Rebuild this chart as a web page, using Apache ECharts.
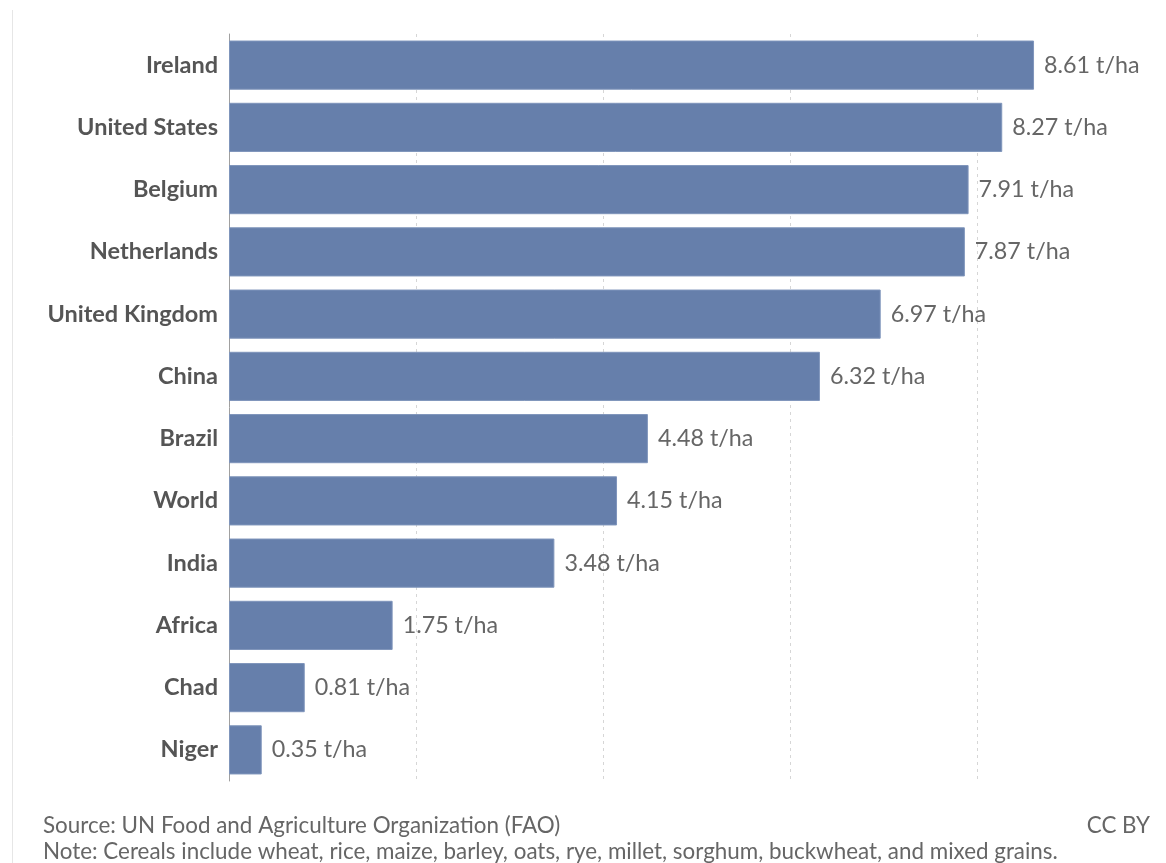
<!DOCTYPE html>
<html>
<head>
<meta charset="utf-8">
<script src="https://cdn.jsdelivr.net/npm/echarts@6/dist/echarts.min.js"></script>
<style>
html,body{margin:0;padding:0;background:#fff;}
#chart{width:1166px;height:863px;}
</style>
</head>
<body>
<div id="chart"></div>
<script>
const categories = ["Ireland","United States","Belgium","Netherlands","United Kingdom","China","Brazil","World","India","Africa","Chad","Niger"];
const values = [8.61, 8.27, 7.91, 7.87, 6.97, 6.32, 4.48, 4.15, 3.48, 1.75, 0.81, 0.35];
const unit = " t/ha";
const sourceText = "Source: UN Food and Agriculture Organization (FAO)";
const noteText = "Note: Cereals include wheat, rice, maize, barley, oats, rye, millet, sorghum, buckwheat, and mixed grains.";
const licenseText = "CC BY";

const chart = echarts.init(document.getElementById('chart'));
const font = 'Lato, "Noto Sans", sans-serif';
chart.setOption({
  animation: false,
  backgroundColor: '#fff',
  grid: {left: 229, right: 2, top: 34, bottom: 82, containLabel: false},
  xAxis: {
    type: 'value', min: 0, max: 10, interval: 2,
    axisLabel: {show: false}, axisLine: {show: false}, axisTick: {show: false},
    splitLine: {show: true, showMinLine: false, showMaxLine: false, lineStyle: {color: '#d6d6d6', type: [3, 4], width: 1}}
  },
  yAxis: {
    type: 'category', data: categories, inverse: true,
    axisLine: {show: true, lineStyle: {color: '#a0a0a0', width: 1}},
    axisTick: {show: false},
    axisLabel: {color: '#555', fontSize: 23.5, fontWeight: 'bold', fontFamily: font, margin: 11}
  },
  series: [{
    type: 'bar', data: values, barCategoryGap: '21%',
    itemStyle: {color: '#667fab', borderColor: '#7f95bb', borderWidth: 1},
    label: {show: true, position: 'right', distance: 10, color: '#666', fontSize: 23.3, fontFamily: font,
      formatter: p => p.value.toFixed(2) + unit}
  }],
  graphic: [
    {type: 'line', shape: {x1: 12.5, y1: 10, x2: 12.5, y2: 863}, style: {stroke: '#e6e6e6', lineWidth: 1}},
    {type: 'text', left: 43, top: 815, style: {text: sourceText, fill: '#666', fontSize: 22.4, fontFamily: font}},
    {type: 'text', right: 16, top: 815, style: {text: licenseText, fill: '#666', fontSize: 22.4, fontFamily: font}},
    {type: 'text', left: 43, top: 841, style: {text: noteText, fill: '#666', fontSize: 22.4, fontFamily: font}}
  ]
});
</script>
</body>
</html>
